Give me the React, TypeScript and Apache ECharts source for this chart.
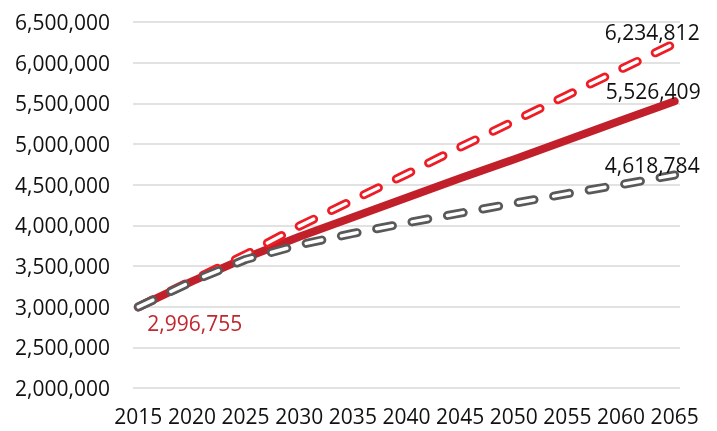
import React, { useEffect, useRef } from "react";
import * as echarts from "echarts";

const years: string[] = [];
for (let y = 2015; y <= 2065; y++) years.push(String(y));

const readYears = [2015, 2020, 2025, 2030, 2035, 2040, 2045, 2050, 2055, 2060, 2065];
const mediumValues = [2996755, 3310000, 3600000, 3860000, 4100000, 4340000, 4580000, 4810000, 5050000, 5290000, 5526409];
const highValues = [2996755, 3320000, 3640000, 3990000, 4310000, 4630000, 4960000, 5280000, 5600000, 5920000, 6234812];
const lowValues = [2996755, 3310000, 3580000, 3760000, 3900000, 4030000, 4150000, 4270000, 4390000, 4500000, 4618784];

const yTicks = { min: 2000000, max: 6500000, interval: 500000 };

const toSeries = (vals: number[]) =>
  years.map((y) => {
    const i = readYears.indexOf(Number(y));
    return i >= 0 ? vals[i] : null;
  });

const fmt = (v: number) => v.toLocaleString("en-US");

const FONT = "'Open Sans', sans-serif";
const FS = 21;

export default function App() {
  const ref = useRef<HTMLDivElement>(null);
  useEffect(() => {
    document.body.style.margin = "0";
    const chart = echarts.init(ref.current!, null, { renderer: "svg" });
    const dash = [16, 20];
    const labelItem = (
      year: number,
      value: number,
      align: string,
      offset: number[],
      color: string
    ) => ({
      coord: [String(year), value],
      value,
      label: {
        show: true,
        position: "inside",
        align,
        verticalAlign: "middle",
        offset,
        formatter: fmt(value),
        color,
        fontSize: FS,
        fontFamily: FONT,
      },
    });
    const last = readYears[readYears.length - 1];
    const mp = (data: any[]) => ({ symbol: "circle", symbolSize: 0, silent: true, data });
    chart.setOption({
      animation: false,
      grid: { left: 133, right: 37, top: 22, bottom: 43 },
      xAxis: {
        type: "category",
        data: years,
        boundaryGap: true,
        axisLine: { show: false },
        axisTick: { show: false },
        axisLabel: {
          interval: 4,
          margin: 17,
          fontSize: FS,
          fontFamily: FONT,
          color: "#111",
        },
      },
      yAxis: {
        type: "value",
        min: yTicks.min,
        max: yTicks.max,
        interval: yTicks.interval,
        axisLine: { show: false },
        axisTick: { show: false },
        splitLine: { lineStyle: { color: "#d9d9d9", width: 1.5 } },
        axisLabel: {
          margin: 23,
          fontSize: FS,
          fontFamily: FONT,
          color: "#111",
          formatter: (v: number) => fmt(v),
        },
      },
      series: [
        {
          name: "Medium",
          type: "line",
          data: toSeries(mediumValues),
          connectNulls: true,
          symbol: "none",
          lineStyle: { color: "#c1202a", width: 8, cap: "round", join: "round" },
          markPoint: mp([
            labelItem(readYears[0], mediumValues[0], "left", [9, 16], "#c1272d"),
            labelItem(last, mediumValues[mediumValues.length - 1], "right", [26, -10], "#111"),
          ]),
        },
        {
          name: "High",
          type: "line",
          data: toSeries(highValues),
          connectNulls: true,
          symbol: "none",
          lineStyle: { color: "#ee1c25", width: 9, type: dash, cap: "round", join: "round" },
          markPoint: mp([labelItem(last, highValues[highValues.length - 1], "right", [25, -12], "#111")]),
        },
        {
          name: "High inner",
          type: "line",
          data: toSeries(highValues),
          connectNulls: true,
          symbol: "none",
          lineStyle: { color: "#ffffff", width: 3.5, type: dash, cap: "round", join: "round" },
        },
        {
          name: "Low",
          type: "line",
          data: toSeries(lowValues),
          connectNulls: true,
          symbol: "none",
          lineStyle: { color: "#595959", width: 9, type: dash, cap: "round", join: "round" },
          markPoint: mp([labelItem(last, lowValues[lowValues.length - 1], "right", [25, -10], "#111")]),
        },
        {
          name: "Low inner",
          type: "line",
          data: toSeries(lowValues),
          connectNulls: true,
          symbol: "none",
          lineStyle: { color: "#ffffff", width: 3.5, type: dash, cap: "round", join: "round" },
        },
      ],
    });
    return () => chart.dispose();
  }, []);
  return (
    <div
      ref={ref}
      style={{ position: "fixed", left: 0, top: 0, width: 717, height: 431 }}
    />
  );
}
